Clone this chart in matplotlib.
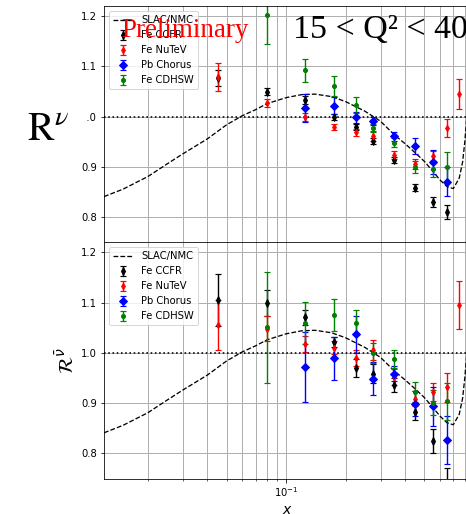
import matplotlib
matplotlib.use("Agg")
import matplotlib.pyplot as plt
from matplotlib.patches import Rectangle

# ---------------------------------------------------------------------------
# SLAC/NMC fit curve (same in both panels)
# ---------------------------------------------------------------------------
fit_x = [0.012, 0.015, 0.02, 0.025, 0.03, 0.04, 0.05, 0.06, 0.07, 0.08, 0.1,
         0.12, 0.14, 0.17, 0.2, 0.25, 0.3, 0.35, 0.4, 0.45, 0.5, 0.55, 0.6,
         0.65, 0.7, 0.75, 0.78, 0.8, 0.85]
fit_r = [0.841, 0.856, 0.881, 0.906, 0.926, 0.956, 0.984, 1.002, 1.014, 1.026,
         1.038, 1.044, 1.045, 1.040, 1.030, 1.011, 0.991, 0.965, 0.946, 0.928,
         0.911, 0.892, 0.874, 0.861, 0.857, 0.878, 0.910, 0.950, 1.080]

# x bins of the data sets
x_ccfr = [0.045, 0.08, 0.125, 0.175, 0.225, 0.275, 0.35, 0.45, 0.55, 0.65]
x_nutev = [0.045, 0.08, 0.125, 0.175, 0.225, 0.275, 0.35, 0.45, 0.55, 0.65, 0.75]
x_chorus = [0.125, 0.175, 0.225, 0.275, 0.35, 0.45, 0.55, 0.65]
x_cdhsw = [0.08, 0.125, 0.175, 0.225, 0.275, 0.35, 0.45, 0.55, 0.65]

# --- neutrino ratios (top panel)
nu_ccfr = [1.077, 1.050, 1.034, 0.999, 0.980, 0.951, 0.914, 0.859, 0.830, 0.811]
nu_ccfr_err = [0.016, 0.007, 0.008, 0.006, 0.006, 0.006, 0.006, 0.007, 0.010, 0.014]
nu_nutev = [1.079, 1.027, 0.999, 0.979, 0.969, 0.961, 0.924, 0.906, 0.922, 0.978, 1.046]
nu_nutev_err = [0.027, 0.008, 0.008, 0.006, 0.007, 0.010, 0.008, 0.010, 0.010, 0.018, 0.030]
nu_chorus = [1.017, 1.022, 0.999, 0.992, 0.961, 0.942, 0.910, 0.871]
nu_chorus_err = [0.028, 0.017, 0.011, 0.008, 0.009, 0.016, 0.023, 0.028]
nu_cdhsw = [1.202, 1.092, 1.062, 1.023, 0.977, 0.948, 0.900, 0.896, 0.900]
nu_cdhsw_err = [0.057, 0.023, 0.020, 0.016, 0.008, 0.009, 0.012, 0.015, 0.030]

# --- anti-neutrino ratios (bottom panel)
nb_ccfr = [1.105, 1.100, 1.071, 1.021, 0.970, 0.959, 0.937, 0.883, 0.825, 0.740]
nb_ccfr_err = [0.052, 0.026, 0.015, 0.010, 0.017, 0.019, 0.014, 0.017, 0.024, 0.030]
nb_nutev = [1.055, 1.048, 1.018, 1.010, 0.989, 1.005, 0.952, 0.909, 0.922, 0.932, 1.095]
nb_nutev_err = [0.050, 0.025, 0.016, 0.013, 0.016, 0.020, 0.015, 0.015, 0.018, 0.029, 0.048]
nb_chorus = [0.972, 0.989, 1.037, 0.949, 0.959, 0.899, 0.894, 0.826]
nb_chorus_err = [0.070, 0.043, 0.037, 0.033, 0.015, 0.025, 0.039, 0.048]
nb_cdhsw = [1.051, 1.060, 1.075, 1.060, 0.999, 0.987, 0.922, 0.901, 0.904]
nb_cdhsw_err = [0.110, 0.042, 0.032, 0.025, 0.020, 0.018, 0.020, 0.025, 0.037]

# label -> (colour, marker, size)
styles = {
    "Fe CCFR":   ("black", "d", 5),
    "Fe NuTeV":  ("red",   "d", 4.5),
    "Pb Chorus": ("blue",  "D", 5.5),
    "Fe CDHSW":  ("green", "o", 4),
}


def draw_panel(ax, sets):
    """Fit curve, unity line and the four data sets with error bars."""
    ax.plot(fit_x, fit_r, "k--", lw=1.3, label="SLAC/NMC")
    ax.axhline(1.0, color="black", ls=":", lw=1.6)
    for label, (xs, ys, es) in sets.items():
        col, mk, ms = styles[label]
        ax.errorbar(xs, ys, yerr=es, fmt=mk, color=col, ms=ms,
                    elinewidth=1.4, capsize=3, capthick=1.2, label=label)
    ax.set_xscale("log")
    ax.set_xlim(0.012, 0.85)
    ax.set_ylim(0.75, 1.22)
    ax.set_yticks([0.8, 0.9, 1.0, 1.1, 1.2])
    ax.grid(True, which="both", color="#b0b0b0", lw=1.0)
    ax.set_axisbelow(True)
    ax.tick_params(labelsize=10)
    ax.legend(loc="upper left", fontsize=10)


fig = plt.figure(figsize=(466 / 72, 514 / 72), dpi=72)
ax_nu = fig.add_axes([0.2232, 0.5285, 0.7854, 0.4595])
ax_nb = fig.add_axes([0.2232, 0.0690, 0.7854, 0.4595], sharex=ax_nu)

draw_panel(ax_nu, {
    "Fe CCFR":   (x_ccfr, nu_ccfr, nu_ccfr_err),
    "Fe NuTeV":  (x_nutev, nu_nutev, nu_nutev_err),
    "Pb Chorus": (x_chorus, nu_chorus, nu_chorus_err),
    "Fe CDHSW":  (x_cdhsw, nu_cdhsw, nu_cdhsw_err),
})
draw_panel(ax_nb, {
    "Fe CCFR":   (x_ccfr, nb_ccfr, nb_ccfr_err),
    "Fe NuTeV":  (x_nutev, nb_nutev, nb_nutev_err),
    "Pb Chorus": (x_chorus, nb_chorus, nb_chorus_err),
    "Fe CDHSW":  (x_cdhsw, nb_cdhsw, nb_cdhsw_err),
})
ax_nu.tick_params(labelbottom=False)

ax_nb.set_ylabel(r"$\mathcal{R}^{\bar{\nu}}$", fontsize=20, labelpad=4)
ax_nb.set_xlabel(r"$x$", fontsize=14)

# big labels on top
fig.text(27 / 466, 1 - 140 / 514, r"$\mathrm{R}^{\nu}$", fontsize=40,
         math_fontfamily="stix", va="baseline")
fig.text(121 / 466, 1 - 37 / 514, "Preliminary", color="red", fontsize=27,
         family="Liberation Serif", va="baseline")
fig.text(293 / 466, 1 - 38 / 514, "15 < Q² < 40", fontsize=34,
         family="Liberation Serif", va="baseline")
# white patch left of the axis hiding the "1" of the 1.0 tick label
fig.add_artist(Rectangle((76 / 466, 1 - 124 / 514), 10.5 / 466, 16 / 514,
                         transform=fig.transFigure, facecolor="white",
                         edgecolor="none", zorder=5))

fig.savefig("out.png", dpi=72)
